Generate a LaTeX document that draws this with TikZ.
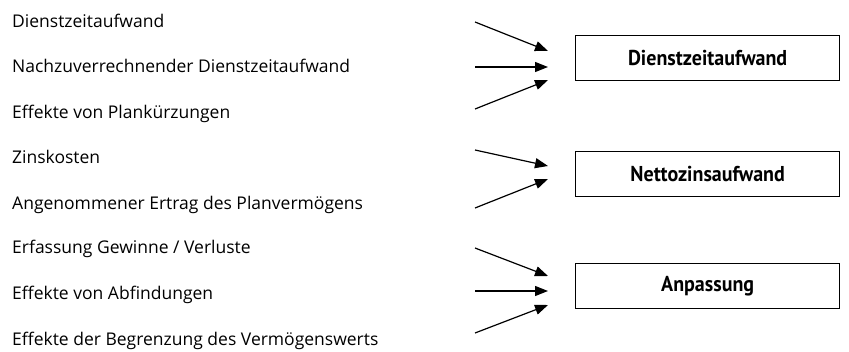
\documentclass[tikz,border=0pt]{standalone}
\usepackage{fontspec}
\setmainfont{Open Sans}
\newfontfamily\boxfont[FakeStretch=0.93]{PT Sans Bold}
\usetikzlibrary{arrows.meta}
\begin{document}
\begin{tikzpicture}[x=1pt,y=-1pt,
  lbl/.style={anchor=base west,inner sep=0pt,font=\fontsize{17.5}{19}\selectfont},
  res/.style={draw,line width=1.3pt,minimum width=264pt,minimum height=45pt,inner sep=0pt,font=\boxfont\fontsize{21.5}{23}\selectfont,anchor=north west},
  arr/.style={line width=1.2pt,-{Triangle[length=13pt,width=10pt]}}]
\useasboundingbox (0,0) rectangle (849,351);
% left labels
\node[lbl] (l1) at (12,27) {Dienstzeitaufwand};
\node[lbl] (l2) at (12,72.5) {Nachzuverrechnender Dienstzeitaufwand};
\node[lbl] (l3) at (12,118) {Effekte von Plankürzungen};
\node[lbl] (l4) at (12,163.5) {Zinskosten};
\node[lbl] (l5) at (12,209) {Angenommener Ertrag des Planvermögens};
\node[lbl] (l6) at (12,253) {Erfassung Gewinne / Verluste};
\node[lbl] (l7) at (12,299) {Effekte von Abfindungen};
\node[lbl] (l8) at (12,345) {Effekte der Begrenzung des Vermögenswerts};
% result boxes
\node[res] (b1) at (575,35) {Dienstzeitaufwand};
\node[res] (b2) at (575,151) {Nettozinsaufwand};
\node[res] (b3) at (575,263) {Anpassung};
% arrow ends
\coordinate (s1) at (475,22);  \coordinate (e1) at (548,51);
\coordinate (s2) at (475,67);  \coordinate (e2) at (548,67);
\coordinate (s3) at (475,109); \coordinate (e3) at (548,80);
\coordinate (s4) at (475,150); \coordinate (e4) at (548,166);
\coordinate (s5) at (475,208); \coordinate (e5) at (548,179);
\coordinate (s6) at (475,248); \coordinate (e6) at (548,276);
\coordinate (s7) at (475,291); \coordinate (e7) at (548,291);
\coordinate (s8) at (475,333); \coordinate (e8) at (548,305);
\foreach \i in {1,...,8} {\draw[arr] (s\i) -- (e\i);}
\end{tikzpicture}
\end{document}
